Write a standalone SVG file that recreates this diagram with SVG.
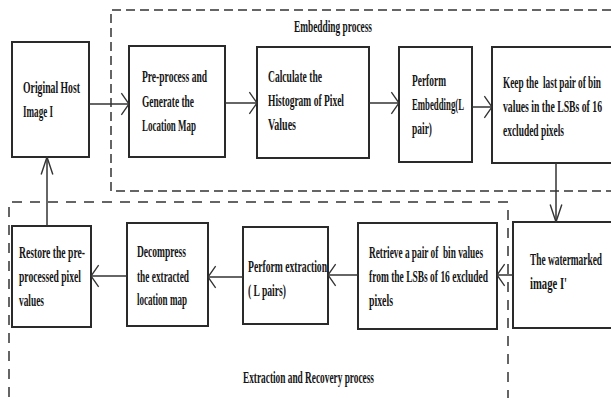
<svg xmlns="http://www.w3.org/2000/svg" width="611" height="398" viewBox="0 0 611 398">
<style>
.box{fill:#fff;stroke:#2a2a2a;stroke-width:2}
.frame{fill:none;stroke:#333;stroke-width:1.5;stroke-dasharray:9 5}
.frame2{fill:none;stroke:#333;stroke-width:1.5;stroke-dasharray:10 8}
.ar{fill:none;stroke:#333;stroke-width:1.5}
text{font-family:"Liberation Serif","Times New Roman",serif;font-weight:bold;font-size:16.5px;fill:#151515;white-space:pre}
</style>
<defs>
<marker id="ah" markerUnits="userSpaceOnUse" markerWidth="12" markerHeight="24" viewBox="-1 -11 10 22" refX="7" refY="0" orient="auto">
<path d="M0,-10 L7,0 L0,10" fill="none" stroke="#333" stroke-width="1.2"/>
</marker>
<marker id="av" markerUnits="userSpaceOnUse" markerWidth="20" markerHeight="14" viewBox="-1 -6 17 12" refX="15" refY="0" orient="auto">
<path d="M0,-5 L15,0 L0,5" fill="none" stroke="#333" stroke-width="1.2"/>
</marker>
</defs>
<g id="frames">
<path class="frame" d="M625,10 H111 V191 H625"/>
<text x="294" y="32" textLength="78" lengthAdjust="spacingAndGlyphs">Embedding process</text>
<path class="frame2" d="M508,400 V202 H9 V400"/>
<text x="243" y="383" textLength="131" lengthAdjust="spacingAndGlyphs">Extraction and Recovery process</text>
</g>
<g id="host">
<rect class="box" x="12" y="42" width="77" height="115"/>
<text x="23" y="93" textLength="57" lengthAdjust="spacingAndGlyphs">Original Host</text>
<text x="23" y="117" textLength="30" lengthAdjust="spacingAndGlyphs">Image I</text>
</g>
<g id="preprocess">
<rect class="box" x="129" y="46" width="96" height="111"/>
<text x="142" y="82" textLength="65" lengthAdjust="spacingAndGlyphs">Pre-process and</text>
<text x="142" y="107" textLength="52" lengthAdjust="spacingAndGlyphs">Generate the</text>
<text x="142" y="131" textLength="54" lengthAdjust="spacingAndGlyphs">Location Map</text>
</g>
<g id="histogram">
<rect class="box" x="257" y="47" width="112" height="111"/>
<text x="268" y="82" textLength="54" lengthAdjust="spacingAndGlyphs">Calculate the</text>
<text x="268" y="106" textLength="76" lengthAdjust="spacingAndGlyphs">Histogram of Pixel</text>
<text x="268" y="130" textLength="28" lengthAdjust="spacingAndGlyphs">Values</text>
</g>
<g id="embedding">
<rect class="box" x="399" y="47" width="73" height="115"/>
<text x="412" y="86" textLength="34" lengthAdjust="spacingAndGlyphs">Perform</text>
<text x="412" y="110" textLength="52" lengthAdjust="spacingAndGlyphs">Embedding(L</text>
<text x="412" y="134" textLength="20" lengthAdjust="spacingAndGlyphs">pair)</text>
</g>
<g id="keep">
<rect class="box" x="492" y="47" width="130" height="116"/>
<text x="503" y="88" textLength="98" lengthAdjust="spacingAndGlyphs">Keep the  last pair of bin</text>
<text x="503" y="112" textLength="99" lengthAdjust="spacingAndGlyphs">values in the LSBs of 16</text>
<text x="503" y="136" textLength="61" lengthAdjust="spacingAndGlyphs">excluded pixels</text>
</g>
<g id="watermarked">
<rect class="box" x="513" y="222" width="110" height="106"/>
<text x="530" y="265" textLength="72" lengthAdjust="spacingAndGlyphs">The watermarked</text>
<text x="530" y="289" textLength="37" lengthAdjust="spacingAndGlyphs">image I'</text>
</g>
<g id="retrieve">
<rect class="box" x="358" y="223" width="139" height="106"/>
<text x="369" y="258" textLength="114" lengthAdjust="spacingAndGlyphs">Retrieve a pair of  bin values</text>
<text x="369" y="282" textLength="119" lengthAdjust="spacingAndGlyphs">from the LSBs of 16 excluded</text>
<text x="369" y="306" textLength="24" lengthAdjust="spacingAndGlyphs">pixels</text>
</g>
<g id="extraction">
<rect class="box" x="243" y="227" width="85" height="97"/>
<text x="248" y="272" textLength="79" lengthAdjust="spacingAndGlyphs">Perform extraction</text>
<text x="248" y="296" textLength="38" lengthAdjust="spacingAndGlyphs">( L pairs)</text>
</g>
<g id="decompress">
<rect class="box" x="127" y="223" width="81" height="103"/>
<text x="137" y="257" textLength="49" lengthAdjust="spacingAndGlyphs">Decompress</text>
<text x="137" y="282" textLength="52" lengthAdjust="spacingAndGlyphs">the extracted</text>
<text x="137" y="305" textLength="50" lengthAdjust="spacingAndGlyphs">location map</text>
</g>
<g id="restore">
<rect class="box" x="12" y="226" width="79" height="101"/>
<text x="19" y="258" textLength="66" lengthAdjust="spacingAndGlyphs">Restore the pre-</text>
<text x="19" y="282" textLength="62" lengthAdjust="spacingAndGlyphs">processed pixel</text>
<text x="19" y="306" textLength="25" lengthAdjust="spacingAndGlyphs">values</text>
</g>
<g id="connectors">
<line class="ar" x1="89" y1="104" x2="129" y2="104" marker-end="url(#ah)"/>
<line class="ar" x1="225" y1="103" x2="257" y2="103" marker-end="url(#ah)"/>
<line class="ar" x1="369" y1="103" x2="399" y2="103" marker-end="url(#ah)"/>
<line class="ar" x1="472" y1="107" x2="492" y2="107" marker-end="url(#ah)"/>
<line class="ar" x1="556" y1="163" x2="556" y2="222" marker-end="url(#av)"/>
<line class="ar" x1="513" y1="275" x2="497" y2="275" marker-end="url(#ah)"/>
<line class="ar" x1="358" y1="275" x2="328" y2="275" marker-end="url(#ah)"/>
<line class="ar" x1="243" y1="277" x2="208" y2="277" marker-end="url(#ah)"/>
<line class="ar" x1="127" y1="276" x2="91" y2="276" marker-end="url(#ah)"/>
<line class="ar" x1="47" y1="226" x2="47" y2="157" marker-end="url(#av)"/>
</g>
</svg>
